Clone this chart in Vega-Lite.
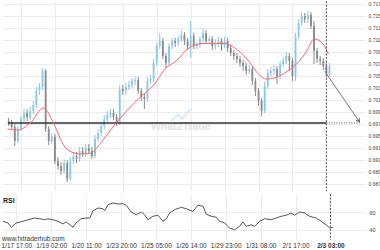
{
  "$schema": "https://vega.github.io/schema/vega-lite/v6.json",
  "padding": 0,
  "background": "white",
  "spacing": 1,
  "config": {
    "view": {"stroke": null},
    "font": "Liberation Sans",
    "axis": {"ticks": false, "domain": false, "gridColor": "#ececec", "gridWidth": 1, "labelColor": "#444", "labelFontSize": 5, "labelOverlap": false}
  },
  "datasets": {
    "px": [
      {"t":-12,"o":0.69745,"h":0.69795,"l":0.69662,"c":0.69712},
      {"t":-9,"o":0.69712,"h":0.69762,"l":0.69595,"c":0.69645},
      {"t":-6,"o":0.69645,"h":0.69695,"l":0.69328,"c":0.69412},
      {"t":-3,"o":0.69412,"h":0.69662,"l":0.69378,"c":0.69612},
      {"t":0,"o":0.69612,"h":0.69828,"l":0.69578,"c":0.69778},
      {"t":3,"o":0.69778,"h":0.69945,"l":0.69728,"c":0.69878},
      {"t":6,"o":0.69878,"h":0.69945,"l":0.69745,"c":0.69812},
      {"t":9,"o":0.69812,"h":0.69978,"l":0.69762,"c":0.69912},
      {"t":12,"o":0.69912,"h":0.70078,"l":0.69862,"c":0.70012},
      {"t":15,"o":0.70012,"h":0.70312,"l":0.69962,"c":0.70245},
      {"t":18,"o":0.70245,"h":0.70378,"l":0.70178,"c":0.70312},
      {"t":21,"o":0.70312,"h":0.70628,"l":0.70262,"c":0.70578},
      {"t":24,"o":0.70578,"h":0.70612,"l":0.69562,"c":0.69612},
      {"t":27,"o":0.69612,"h":0.69662,"l":0.69345,"c":0.69412},
      {"t":30,"o":0.69412,"h":0.69545,"l":0.69362,"c":0.69478},
      {"t":33,"o":0.69478,"h":0.69528,"l":0.69028,"c":0.69078},
      {"t":36,"o":0.69078,"h":0.69145,"l":0.68928,"c":0.68995},
      {"t":39,"o":0.68995,"h":0.69062,"l":0.68845,"c":0.68912},
      {"t":42,"o":0.68912,"h":0.69112,"l":0.68862,"c":0.69045},
      {"t":45,"o":0.69045,"h":0.69095,"l":0.68728,"c":0.68778},
      {"t":48,"o":0.68778,"h":0.69145,"l":0.68745,"c":0.69078},
      {"t":51,"o":0.69078,"h":0.69228,"l":0.69028,"c":0.69162},
      {"t":54,"o":0.69162,"h":0.69228,"l":0.69045,"c":0.69112},
      {"t":57,"o":0.69112,"h":0.69312,"l":0.69062,"c":0.69245},
      {"t":60,"o":0.69245,"h":0.69312,"l":0.69145,"c":0.69195},
      {"t":63,"o":0.69195,"h":0.69362,"l":0.69145,"c":0.69295},
      {"t":66,"o":0.69295,"h":0.69362,"l":0.69195,"c":0.69245},
      {"t":69,"o":0.69245,"h":0.69312,"l":0.69112,"c":0.69162},
      {"t":72,"o":0.69162,"h":0.69512,"l":0.69128,"c":0.69445},
      {"t":75,"o":0.69445,"h":0.69612,"l":0.69395,"c":0.69545},
      {"t":78,"o":0.69545,"h":0.69728,"l":0.69495,"c":0.69662},
      {"t":81,"o":0.69662,"h":0.69845,"l":0.69612,"c":0.69778},
      {"t":84,"o":0.69778,"h":0.69912,"l":0.69728,"c":0.69845},
      {"t":87,"o":0.69845,"h":0.69945,"l":0.69795,"c":0.69878},
      {"t":90,"o":0.69878,"h":0.69945,"l":0.69762,"c":0.69812},
      {"t":93,"o":0.69812,"h":0.69862,"l":0.69662,"c":0.69712},
      {"t":96,"o":0.69712,"h":0.70345,"l":0.69678,"c":0.70278},
      {"t":99,"o":0.70278,"h":0.70345,"l":0.70178,"c":0.70245},
      {"t":102,"o":0.70245,"h":0.70378,"l":0.70178,"c":0.70312},
      {"t":105,"o":0.70312,"h":0.70412,"l":0.70262,"c":0.70345},
      {"t":108,"o":0.70345,"h":0.70462,"l":0.70295,"c":0.70412},
      {"t":111,"o":0.70412,"h":0.70478,"l":0.70345,"c":0.70428},
      {"t":114,"o":0.70428,"h":0.70478,"l":0.70195,"c":0.70245},
      {"t":117,"o":0.70245,"h":0.70295,"l":0.70078,"c":0.70145},
      {"t":120,"o":0.70145,"h":0.70195,"l":0.69945,"c":0.70112},
      {"t":123,"o":0.70112,"h":0.70478,"l":0.70062,"c":0.70412},
      {"t":126,"o":0.70412,"h":0.70512,"l":0.70362,"c":0.70445},
      {"t":129,"o":0.70445,"h":0.70778,"l":0.70395,"c":0.70712},
      {"t":132,"o":0.70712,"h":0.71045,"l":0.70662,"c":0.70995},
      {"t":135,"o":0.70995,"h":0.71212,"l":0.70945,"c":0.71078},
      {"t":138,"o":0.71078,"h":0.71128,"l":0.70778,"c":0.70828},
      {"t":141,"o":0.70828,"h":0.70878,"l":0.70628,"c":0.70712},
      {"t":144,"o":0.70712,"h":0.71045,"l":0.70662,"c":0.70995},
      {"t":147,"o":0.70995,"h":0.71128,"l":0.70945,"c":0.71078},
      {"t":150,"o":0.71078,"h":0.71128,"l":0.70978,"c":0.71045},
      {"t":153,"o":0.71045,"h":0.71162,"l":0.70995,"c":0.71112},
      {"t":156,"o":0.71112,"h":0.71262,"l":0.71062,"c":0.71178},
      {"t":159,"o":0.71178,"h":0.71228,"l":0.71012,"c":0.71078},
      {"t":162,"o":0.71078,"h":0.71128,"l":0.70928,"c":0.70995},
      {"t":165,"o":0.70995,"h":0.71412,"l":0.70795,"c":0.71162},
      {"t":168,"o":0.71162,"h":0.71212,"l":0.70945,"c":0.70995},
      {"t":171,"o":0.70995,"h":0.71062,"l":0.70945,"c":0.71012},
      {"t":174,"o":0.71012,"h":0.71162,"l":0.70962,"c":0.71112},
      {"t":177,"o":0.71112,"h":0.71278,"l":0.71062,"c":0.71212},
      {"t":180,"o":0.71212,"h":0.71262,"l":0.71028,"c":0.71078},
      {"t":183,"o":0.71078,"h":0.71162,"l":0.71028,"c":0.71112},
      {"t":186,"o":0.71112,"h":0.71162,"l":0.70928,"c":0.70995},
      {"t":189,"o":0.70995,"h":0.71112,"l":0.70945,"c":0.71045},
      {"t":192,"o":0.71045,"h":0.71145,"l":0.70978,"c":0.71078},
      {"t":195,"o":0.71078,"h":0.71128,"l":0.70912,"c":0.71012},
      {"t":198,"o":0.71012,"h":0.71145,"l":0.70962,"c":0.71078},
      {"t":201,"o":0.71078,"h":0.71128,"l":0.70895,"c":0.70962},
      {"t":204,"o":0.70962,"h":0.71012,"l":0.70828,"c":0.70878},
      {"t":207,"o":0.70878,"h":0.70928,"l":0.70762,"c":0.70828},
      {"t":210,"o":0.70828,"h":0.70878,"l":0.70712,"c":0.70778},
      {"t":213,"o":0.70778,"h":0.70828,"l":0.70645,"c":0.70712},
      {"t":216,"o":0.70712,"h":0.70762,"l":0.70578,"c":0.70662},
      {"t":219,"o":0.70662,"h":0.70712,"l":0.70512,"c":0.70578},
      {"t":222,"o":0.70578,"h":0.70678,"l":0.70528,"c":0.70612},
      {"t":225,"o":0.70612,"h":0.70662,"l":0.70345,"c":0.70412},
      {"t":228,"o":0.70412,"h":0.70462,"l":0.70162,"c":0.70245},
      {"t":231,"o":0.70245,"h":0.70295,"l":0.69995,"c":0.70078},
      {"t":234,"o":0.70078,"h":0.70128,"l":0.69828,"c":0.69912},
      {"t":237,"o":0.69912,"h":0.70395,"l":0.69878,"c":0.70328},
      {"t":240,"o":0.70328,"h":0.70612,"l":0.70278,"c":0.70545},
      {"t":243,"o":0.70545,"h":0.70645,"l":0.70478,"c":0.70578},
      {"t":246,"o":0.70578,"h":0.70678,"l":0.70512,"c":0.70612},
      {"t":249,"o":0.70612,"h":0.70662,"l":0.70362,"c":0.70495},
      {"t":252,"o":0.70495,"h":0.70745,"l":0.70445,"c":0.70695},
      {"t":255,"o":0.70695,"h":0.70812,"l":0.70645,"c":0.70745},
      {"t":258,"o":0.70745,"h":0.70895,"l":0.70695,"c":0.70828},
      {"t":261,"o":0.70828,"h":0.70878,"l":0.70578,"c":0.70745},
      {"t":264,"o":0.70745,"h":0.70795,"l":0.70412,"c":0.70495},
      {"t":267,"o":0.70495,"h":0.71212,"l":0.70412,"c":0.71162},
      {"t":270,"o":0.71162,"h":0.71445,"l":0.71112,"c":0.71378},
      {"t":273,"o":0.71378,"h":0.71562,"l":0.71328,"c":0.71495},
      {"t":276,"o":0.71495,"h":0.71545,"l":0.71378,"c":0.71445},
      {"t":279,"o":0.71445,"h":0.71578,"l":0.71378,"c":0.71512},
      {"t":282,"o":0.71512,"h":0.71562,"l":0.71278,"c":0.71328},
      {"t":285,"o":0.71328,"h":0.71412,"l":0.70695,"c":0.70912},
      {"t":288,"o":0.70912,"h":0.70962,"l":0.70712,"c":0.70778},
      {"t":291,"o":0.70778,"h":0.70828,"l":0.70678,"c":0.70745},
      {"t":294,"o":0.70745,"h":0.70795,"l":0.70595,"c":0.70662},
      {"t":297,"o":0.70662,"h":0.70712,"l":0.70495,"c":0.70528},
      {"t":300,"o":0.70528,"h":0.70712,"l":0.70478,"c":0.70662}
    ],
    "ma": [
      {"t":-13,"p":0.69612},{"t":-3,"p":0.69595},{"t":9,"p":0.69712},{"t":22,"p":0.69962},
      {"t":32,"p":0.69695},{"t":42,"p":0.69328},{"t":49,"p":0.69228},{"t":58,"p":0.69195},
      {"t":68,"p":0.69212},{"t":79,"p":0.69412},{"t":91,"p":0.69678},{"t":101,"p":0.69878},
      {"t":115,"p":0.70128},{"t":129,"p":0.70345},{"t":141,"p":0.70628},{"t":151,"p":0.70745},
      {"t":162,"p":0.70945},{"t":177,"p":0.71037},{"t":198,"p":0.71037},{"t":208,"p":0.70962},
      {"t":219,"p":0.70795},{"t":233,"p":0.70495},{"t":238,"p":0.70445},{"t":249,"p":0.70478},
      {"t":262,"p":0.70612},{"t":268,"p":0.70695},{"t":278,"p":0.70912},{"t":285,"p":0.71112},
      {"t":293,"p":0.71045},{"t":299,"p":0.70862}
    ],
    "rsi": [
      {"t":-12.6,"r":49.7},{"t":-7.8,"r":47.7},{"t":-4.7,"r":42.8},{"t":-0.3,"r":47.7},
      {"t":6.3,"r":49.7},{"t":11.1,"r":51.5},{"t":17.4,"r":53.4},{"t":22.1,"r":52.6},
      {"t":26.8,"r":51.5},{"t":30,"r":52.6},{"t":34.7,"r":51.5},{"t":39.4,"r":49.7},
      {"t":44.1,"r":46.6},{"t":47,"r":48.9},{"t":50.5,"r":45.7},{"t":53.6,"r":42.8},
      {"t":56.4,"r":47.7},{"t":61.2,"r":52.6},{"t":65.9,"r":53.4},{"t":69.4,"r":53.4},
      {"t":72.5,"r":61.8},{"t":77.2,"r":64.9},{"t":81.9,"r":64.1},{"t":83.6,"r":61.8},
      {"t":86.7,"r":68.7},{"t":91.4,"r":70.7},{"t":96.1,"r":69.5},{"t":100.9,"r":69.9},
      {"t":104,"r":68.0},{"t":108.7,"r":60.3},{"t":113.4,"r":57.2},{"t":118.1,"r":60.3},
      {"t":121.4,"r":57.2},{"t":124.5,"r":51.5},{"t":129.2,"r":55.4},{"t":133.9,"r":56.6},
      {"t":138.7,"r":49.7},{"t":141.8,"r":52.6},{"t":145,"r":59.2},{"t":149.7,"r":63.0},
      {"t":156,"r":65.7},{"t":160.7,"r":64.1},{"t":167,"r":61.0},{"t":171.7,"r":68.3},
      {"t":176.5,"r":66.9},{"t":179.6,"r":58.0},{"t":184.3,"r":55.4},{"t":189,"r":54.3},
      {"t":192.2,"r":49.7},{"t":196.9,"r":47.7},{"t":201.7,"r":42.0},{"t":206.4,"r":40.0},
      {"t":211.1,"r":43.9},{"t":214.3,"r":48.9},{"t":217.4,"r":43.9},{"t":222.1,"r":45.7},
      {"t":225.3,"r":43.9},{"t":230.1,"r":49.7},{"t":234.8,"r":52.6},{"t":241,"r":51.5},
      {"t":245.7,"r":53.4},{"t":250.5,"r":55.4},{"t":255.2,"r":56.6},{"t":259.9,"r":59.2},
      {"t":263.1,"r":56.6},{"t":267.8,"r":60.3},{"t":272.6,"r":59.2},{"t":277.3,"r":55.4},
      {"t":283.5,"r":53.4},{"t":288.2,"r":49.7},{"t":292.9,"r":45.7},{"t":296.2,"r":42.0},
      {"t":299.3,"r":42.8}
    ],
    "levels": [
      {"from":-12.6,"to":297,"p":0.69712,"kind":"solid"},
      {"from":297,"to":329.4,"p":0.69712,"kind":"dotted"}
    ],
    "arrow": [
      {"t":297,"p":0.70533,"end":false},
      {"t":329.3,"p":0.69728,"end":true}
    ],
    "logo": [
      {"t":146.4,"p":0.69745},{"t":152.8,"p":0.69862},{"t":156.6,"p":0.69778},{"t":165.1,"p":0.69945}
    ]
  },
  "vconcat": [
    {
      "width": 362,
      "height": 190,
      "layer": [
        {
          "data": {"name": "px"},
          "mark": {"type": "rule", "strokeWidth": 1},
          "encoding": {
            "x": {"field": "t", "type": "quantitative", "title": null,
                  "scale": {"domain": [-12.6, 329.7], "nice": false, "zero": false},
                  "axis": {"values": [0,33,66,99,132,165,198,231,264,297], "tickCount": 20, "labels": false, "grid": true}},
            "y": {"field": "l", "type": "quantitative", "title": null,
                  "scale": {"domain": [0.68578, 0.71745], "nice": false, "zero": false},
                  "axis": {"orient": "right", "format": ".3f", "labelPadding": 3, "grid": true, "tickCount": 40, "labelOverlap": false, "labelFontSize": 5,
                           "values": [0.687,0.689,0.691,0.693,0.695,0.697,0.699,0.701,0.703,0.705,0.707,0.709,0.711,0.713,0.715,0.717]}},
            "y2": {"field": "h"},
            "color": {"condition": {"test": "datum.c >= datum.o", "value": "#88c8ea"}, "value": "#8a8a8a"}
          }
        },
        {
          "data": {"name": "px"},
          "mark": {"type": "bar", "width": 1.8},
          "encoding": {
            "x": {"field": "t", "type": "quantitative", "title": null},
            "y": {"field": "o", "type": "quantitative", "title": null},
            "y2": {"field": "c"},
            "color": {"condition": {"test": "datum.c >= datum.o", "value": "#88c8ea"}, "value": "#8a8a8a"}
          }
        },
        {
          "data": {"name": "logo"},
          "mark": {"type": "line", "color": "#d8ecf7", "strokeWidth": 2},
          "encoding": {
            "x": {"field": "t", "type": "quantitative", "title": null},
            "y": {"field": "p", "type": "quantitative", "title": null}
          }
        },
        {
          "data": {"values": [{"t": 126.4, "p": 0.69640, "txt": "What2Trade"}]},
          "mark": {"type": "text", "align": "left", "baseline": "middle", "fontSize": 10.5, "fontWeight": "bold", "color": "#e2e2e2"},
          "encoding": {
            "x": {"field": "t", "type": "quantitative", "title": null},
            "y": {"field": "p", "type": "quantitative", "title": null},
            "text": {"field": "txt"}
          }
        },
        {
          "data": {"name": "levels"},
          "transform": [{"filter": "datum.kind == 'solid'"}],
          "mark": {"type": "rule", "color": "#333333", "strokeWidth": 1.5},
          "encoding": {
            "x": {"field": "from", "type": "quantitative", "title": null},
            "x2": {"field": "to"},
            "y": {"field": "p", "type": "quantitative", "title": null}
          }
        },
        {
          "data": {"name": "levels"},
          "transform": [{"filter": "datum.kind == 'dotted'"}],
          "mark": {"type": "rule", "color": "#555555", "strokeWidth": 1, "strokeDash": [1, 1.5]},
          "encoding": {
            "x": {"field": "from", "type": "quantitative", "title": null},
            "x2": {"field": "to"},
            "y": {"field": "p", "type": "quantitative", "title": null}
          }
        },
        {
          "data": {"name": "ma"},
          "mark": {"type": "line", "color": "#ff6464", "strokeWidth": 1, "interpolate": "monotone"},
          "encoding": {
            "x": {"field": "t", "type": "quantitative", "title": null},
            "y": {"field": "p", "type": "quantitative", "title": null}
          }
        },
        {
          "data": {"values": [{"t": 297}]},
          "mark": {"type": "rule", "color": "#555555", "strokeWidth": 1, "strokeDash": [2, 1.5]},
          "encoding": {
            "x": {"field": "t", "type": "quantitative", "title": null}
          }
        },
        {
          "data": {"name": "arrow"},
          "mark": {"type": "line", "color": "#777777", "strokeWidth": 1},
          "encoding": {
            "x": {"field": "t", "type": "quantitative", "title": null},
            "y": {"field": "p", "type": "quantitative", "title": null}
          }
        },
        {
          "data": {"name": "arrow"},
          "transform": [{"filter": "datum.end"}],
          "mark": {"type": "point", "shape": "M-0.55,1L0,0L0.55,1", "filled": false, "size": 49, "angle": 144.5, "color": "#666666", "strokeWidth": 1, "opacity": 1},
          "encoding": {
            "x": {"field": "t", "type": "quantitative", "title": null},
            "y": {"field": "p", "type": "quantitative", "title": null}
          }
        }
      ]
    },
    {
      "width": 362,
      "height": 46,
      "layer": [
        {
          "data": {"name": "rsi"},
          "mark": {"type": "line", "color": "#555555", "strokeWidth": 1},
          "encoding": {
            "x": {"field": "t", "type": "quantitative", "title": null,
                  "scale": {"domain": [-12.6, 329.7], "nice": false, "zero": false},
                  "axis": {"values": [0,33,66,99,132,165,198,231,264,297], "tickCount": 20, "grid": true, "labelFontSize": 6.5, "labelPadding": 2,
                           "labelColor": "#333",
                           "labelFontWeight": {"condition": {"test": "datum.value == 297", "value": "bold"}, "value": "normal"},
                           "labelExpr": "['1/17 17:00','1/19 02:00','1/20 11:00','1/23 20:00','1/25 05:00','1/26 14:00','1/29 23:00','1/31 08:00','2/1 17:00','2/3 03:00'][round(datum.value/33)]"}},
            "y": {"field": "r", "type": "quantitative", "title": null,
                  "scale": {"domain": [28.2, 81], "nice": false, "zero": false},
                  "axis": {"orient": "right", "values": [40, 60], "tickCount": 5, "grid": true, "labelPadding": 4, "labelFontSize": 5.5}}
          }
        },
        {
          "data": {"values": [{"t": 297}]},
          "mark": {"type": "rule", "color": "#555555", "strokeWidth": 1, "strokeDash": [2, 1.5]},
          "encoding": {
            "x": {"field": "t", "type": "quantitative", "title": null}
          }
        },
        {
          "data": {"values": [{"t": -12.6, "r": 73.5, "txt": "RSI"}]},
          "mark": {"type": "text", "align": "left", "baseline": "middle", "fontSize": 7, "fontWeight": "bold", "color": "#222"},
          "encoding": {
            "x": {"field": "t", "type": "quantitative", "title": null},
            "y": {"field": "r", "type": "quantitative", "title": null},
            "text": {"field": "txt"}
          }
        },
        {
          "data": {"values": [{"t": -13.5, "r": 29.8, "txt": "www.fxtraderhub.com"}]},
          "mark": {"type": "text", "align": "left", "baseline": "middle", "fontSize": 6.5, "color": "#333"},
          "encoding": {
            "x": {"field": "t", "type": "quantitative", "title": null},
            "y": {"field": "r", "type": "quantitative", "title": null},
            "text": {"field": "txt"}
          }
        }
      ]
    }
  ]
}
